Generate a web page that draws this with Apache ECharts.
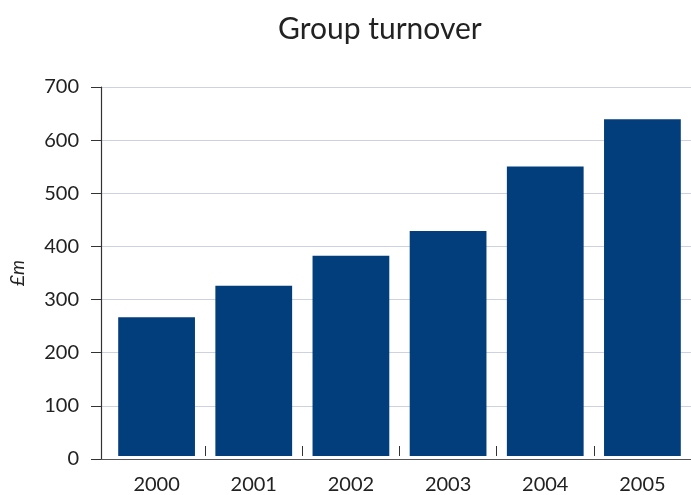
<!DOCTYPE html>
<html>
<head>
<meta charset="utf-8">
<script src="https://cdn.jsdelivr.net/npm/echarts@6/dist/echarts.min.js"></script>
<style>html,body{margin:0;padding:0;background:#fff;}#c{width:691px;height:495px;}</style>
</head>
<body>
<div id="c"></div>
<script>
const years = ['2000', '2001', '2002', '2003', '2004', '2005'];
const turnover = [263, 323, 380, 427, 549, 639];
const yTicks = { min: 0, max: 700, interval: 100 };

const chart = echarts.init(document.getElementById('c'), null, { renderer: 'canvas' });
const font = 'Lato, "Open Sans", sans-serif';
chart.setOption({
  animation: false,
  backgroundColor: '#ffffff',
  title: {
    text: 'Group turnover',
    left: 273, top: 9,
    textStyle: { fontFamily: font, fontSize: 30, fontWeight: 'normal', color: '#222' }
  },
  grid: [
    { left: 99, right: 0, top: 87, bottom: 36 },
    { left: 108, width: 588, top: 87, bottom: 36 }
  ],
  xAxis: [
    { gridIndex: 0, type: 'value', min: 0, max: 1,
      axisLine: { show: true, onZero: false, lineStyle: { color: '#555', width: 1 } },
      axisTick: { show: false }, axisLabel: { show: false }, splitLine: { show: false } },
    { gridIndex: 1, type: 'category', data: years,
      axisLine: { show: false },
      axisTick: { show: true, inside: true, length: 10, interval: function (i) { return i !== 0; }, lineStyle: { color: '#333' } },
      axisLabel: { fontFamily: font, fontSize: 20, color: '#222', margin: 19 },
      splitLine: { show: false } }
  ],
  yAxis: [
    { gridIndex: 0, type: 'value', min: yTicks.min, max: yTicks.max, interval: yTicks.interval,
      name: '£m', nameLocation: 'middle', nameGap: 74, nameRotate: 90,
      nameTextStyle: { fontFamily: font, fontSize: 19, fontStyle: 'italic', color: '#222' },
      axisLine: { show: true, lineStyle: { color: '#333', width: 1.2 } },
      axisTick: { show: true, length: 10, lineStyle: { color: '#333' } },
      axisLabel: { fontFamily: font, fontSize: 20, color: '#222', margin: 22 },
      splitLine: { show: true, lineStyle: { color: '#cdd1e4', width: 1 } } },
    { gridIndex: 1, type: 'value', min: yTicks.min, max: yTicks.max, interval: yTicks.interval, show: false }
  ],
  series: [{
    type: 'bar', xAxisIndex: 1, yAxisIndex: 1,
    data: turnover,
    barCategoryGap: '21%',
    itemStyle: { color: '#023e7c' }
  }]
});
</script>
</body>
</html>
